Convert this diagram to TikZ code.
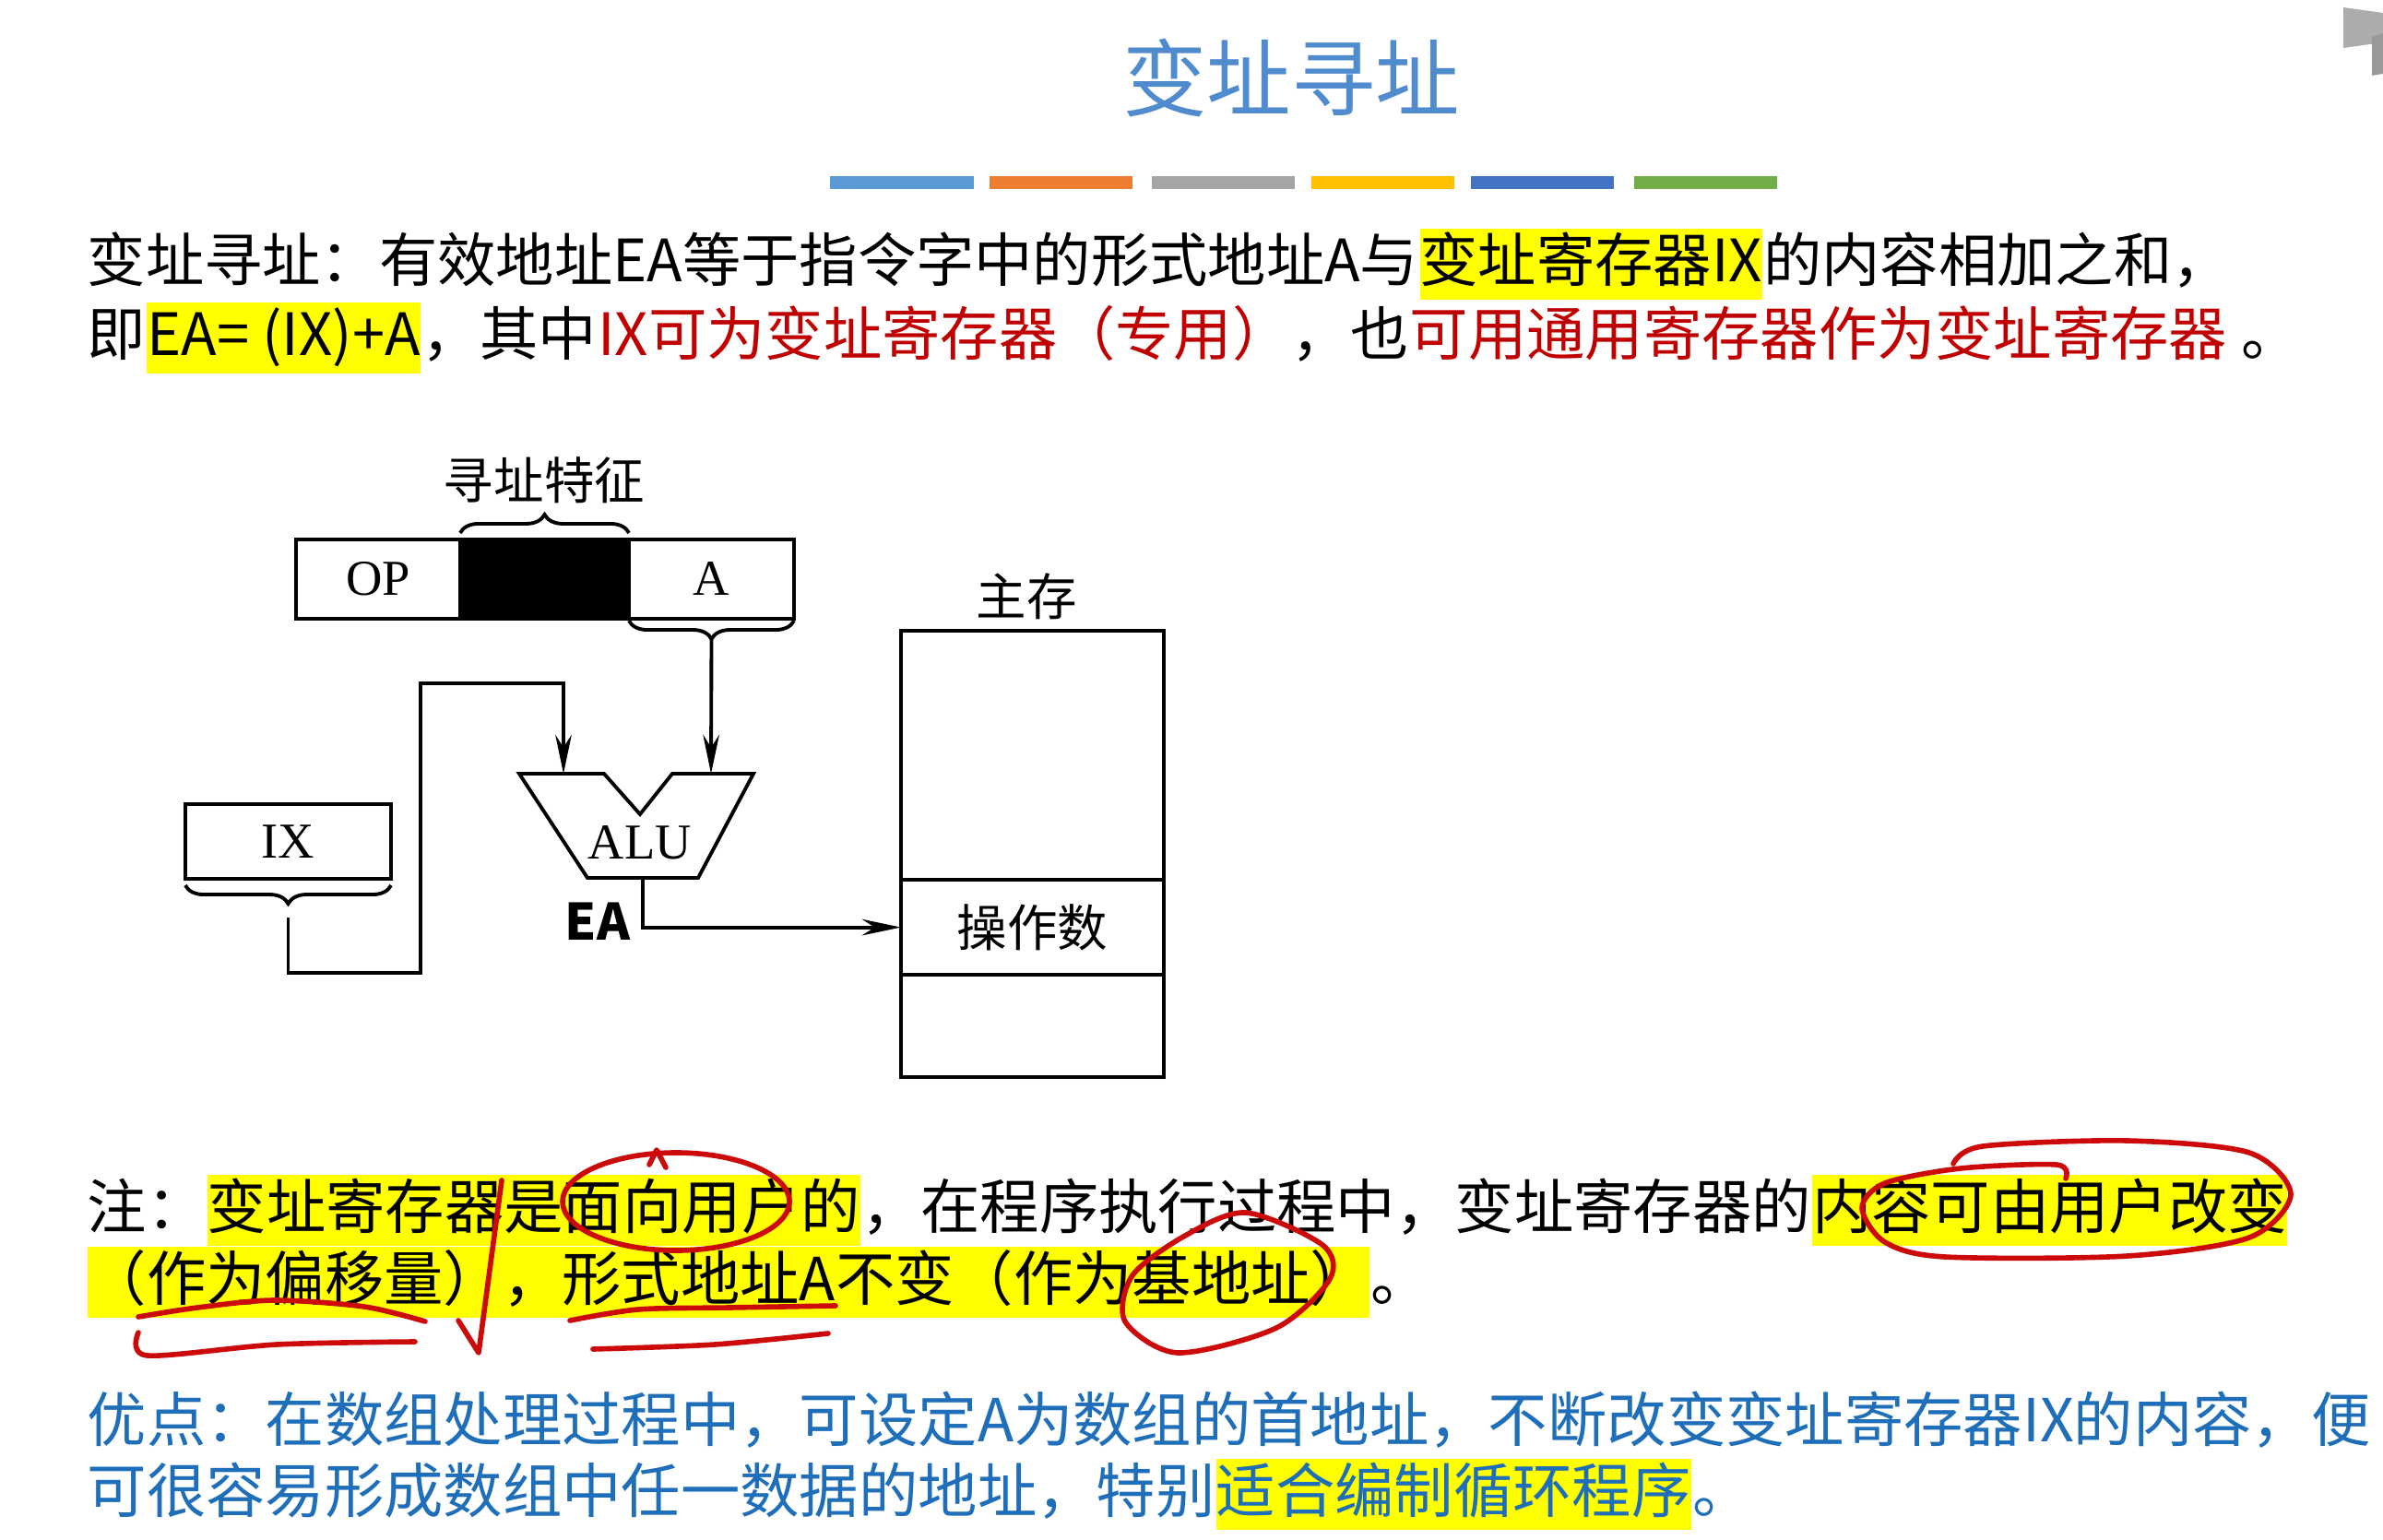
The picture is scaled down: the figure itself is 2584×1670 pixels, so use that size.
\documentclass[tikz,border=0pt]{standalone}
\usepackage{fontspec}
\setmainfont{Noto Sans CJK SC}
\newfontfamily\figserif{Liberation Serif}
\usepackage{xcolor}
\usetikzlibrary{arrows.meta,positioning,decorations.pathreplacing}

\definecolor{titleblue}{RGB}{79,139,205}
\definecolor{noteblue}{RGB}{30,110,185}
\definecolor{notered}{RGB}{192,0,0}
\definecolor{penred}{RGB}{205,10,10}
\definecolor{hlyellow}{RGB}{255,255,0}
\definecolor{barA}{RGB}{91,155,213}
\definecolor{barB}{RGB}{237,125,49}
\definecolor{barC}{RGB}{165,165,165}
\definecolor{barD}{RGB}{255,192,0}
\definecolor{barE}{RGB}{68,114,196}
\definecolor{barF}{RGB}{112,173,71}

\tikzset{
  seg/.style={inner sep=0pt, anchor=base west, text height=16.5pt, text depth=5.4pt,
    font=\fontsize{18.3}{22}\selectfont},
  hilite/.style={seg, fill=hlyellow},
  eqfont/.style={font=\fontsize{18}{22}\selectfont},
  cell/.style={draw, line width=1.1pt, inner sep=0pt, outer sep=0pt, minimum height=0.86cm,
    font=\figserif\fontsize{15.5}{16}\selectfont},
  cjklabel/.style={inner sep=0pt, font=\fontsize{15.5}{16}\selectfont},
  brace/.style={decorate, decoration={brace, amplitude=0.2cm}, line width=1.1pt},
  flow/.style={line width=1.1pt, -{Stealth[length=12pt, width=5pt]}},
  pen/.style={draw=penred, line width=1.6pt, line cap=round, line join=round},
}

\begin{document}
\begin{tikzpicture}[x=0.01cm, y=-0.01cm]
  \useasboundingbox (0,0) rectangle (2584,1670);
  % corner of the slide frame
  \fill[gray!65] (2541,8) -- (2584,14) -- (2584,46) -- (2541,52) -- cycle;
  \fill[gray!80] (2572,40) -- (2584,36) -- (2584,80) -- (2572,82) -- cycle;

  % title and colour strip
  \node[anchor=base, inner sep=0pt, text=titleblue, font=\fontsize{26}{30}\selectfont] (title) at (1400,120) {变址寻址};
  \fill[barA] (900,191) rectangle (1056,205);
  \fill[barB] (1073,191) rectangle (1228,205);
  \fill[barC] (1249,191) rectangle (1404,205);
  \fill[barD] (1422,191) rectangle (1577,205);
  \fill[barE] (1595,191) rectangle (1750,205);
  \fill[barF] (1772,191) rectangle (1927,205);

  % definition
  \node[seg, eqfont] (defa) at (94,306) {变址寻址：有效地址EA等于指令字中的形式地址A与};
  \node[hilite, eqfont] (defb) at (defa.base east) {变址寄存器IX};
  \node[seg, eqfont] (defc) at (defb.base east) {的内容相加之和，};
  \node[seg, eqfont] (eqa) at (94,386) {即};
  \node[hilite, eqfont] (eqb) at (eqa.base east) {EA= (IX)+A};
  \node[seg, eqfont] (eqc) at (eqb.base east) {，其中};
  \node[seg, eqfont, text=notered] (eqd) at (eqc.base east) {IX可为变址寄存器（专用）};
  \node[seg, eqfont] (eqe) at (eqd.base east) {，也};
  \node[seg, eqfont, text=notered] (eqf) at (eqe.base east) {可用通用寄存器作为变址寄存器};
  \node[seg, eqfont] (eqg) at (eqf.base east) {\ 。};

  % instruction word
  \node[cell, minimum width=1.78cm] (op) at (410,628) {OP};
  \node[cell, minimum width=1.83cm, fill=black] (mode) at (590.5,628) {};
  \node[cell, minimum width=1.79cm] (addr) at (771.5,628) {A};
  \draw[brace] ([yshift=0.07cm]mode.north west) -- ([yshift=0.07cm]mode.north east);
  \node[cjklabel] (modelbl) at (590,521) {寻址特征};
  \draw[brace] ([yshift=-0.02cm]addr.south east) -- ([yshift=-0.02cm]addr.south west);
  \coordinate (atip) at ([yshift=-0.22cm]addr.south);

  % index register
  \node[cell, minimum width=2.23cm, minimum height=0.81cm] (ix) at (312.5,912.5) {IX};
  \draw[brace] ([yshift=-0.07cm]ix.south east) -- ([yshift=-0.07cm]ix.south west);
  \coordinate (ixtip) at ([yshift=-0.42cm]ix.south);

  % adder
  \draw[line width=1.1pt, line join=miter] (563,839) -- (655,839) -- (694,883) -- (729,839)
    -- (817,839) -- (757,952) -- (637,952) -- cycle;
  \node[inner sep=0pt, font=\figserif\fontsize{15.5}{16}\selectfont] (alu) at (694,914) {ALU};
  \coordinate (aluL) at (611,839);
  \coordinate (aluR) at (771,839);
  \coordinate (aluout) at (697,952);

  % main memory
  \node[cell, minimum width=2.85cm, minimum height=2.70cm] (memtop) at (1119.5,819) {};
  \node[cell, minimum width=2.85cm, minimum height=1.03cm, anchor=north,
    font=\fontsize{15.5}{16}\selectfont] (opnd) at (memtop.south) {操作数};
  \node[cell, minimum width=2.85cm, minimum height=1.11cm, anchor=north] (membot) at (opnd.south) {};
  \node[cjklabel] (memlbl) at (1113,647) {主存};

  % data paths
  \draw[flow] (atip) -- (aluR);
  \draw[flow] (ixtip) |- (456,1055) -- (456,741) -| (aluL);
  \draw[flow] (aluout) |- (opnd.west);
  \node[inner sep=0pt, font=\bfseries\fontsize{15.5}{16}\selectfont] (ea) at (648,999) {EA};

  % note
  \node[seg] (nota) at (94,1332) {注：};
  \node[hilite] (notb) at (nota.base east) {变址寄存器是面向用户的};
  \node[seg] (notc) at (notb.base east) {，在程序执行过程中，变址寄存器的};
  \node[hilite] (notd) at (notc.base east) {内容可由用户改变};
  \node[hilite] (note) at (94,1410) {（作为偏移量），形式地址A不变（作为基地址）};
  \node[seg] (notf) at (note.base east) {。};

  % advantage
  \node[seg, text=noteblue] (adva) at (94,1563) {优点：在数组处理过程中，可设定A为数组的首地址，不断改变变址寄存器IX的内容，便};
  \node[seg, text=noteblue] (advb) at (94,1640) {可很容易形成数组中任一数据的地址，特别};
  \node[hilite, text=noteblue] (advc) at (advb.base east) {适合编制循环程序};
  \node[seg, text=noteblue] (advd) at (advc.base east) {。};

  % pen marks
  \draw[pen] (733,1303) ellipse [x radius=123, y radius=53];
  \draw[pen] (704,1263) -- (712,1247) -- (722,1266);
  \draw[pen] plot[smooth] coordinates {(2118,1262) (2150,1243) (2307,1237) (2439,1250) (2484,1295)
    (2439,1342) (2307,1362) (2109,1363) (2044,1347) (2019,1310) (2044,1283) (2126,1267) (2230,1263) (2240,1278)};
  \draw[pen] plot[smooth cycle] coordinates {(1351,1315) (1434,1350) (1442,1387) (1384,1440)
    (1277,1467) (1220,1433) (1228,1383) (1285,1340)};
  \draw[pen] plot[smooth] coordinates {(150,1428) (214,1418) (297,1410) (395,1417) (461,1433)};
  \draw[pen] plot[smooth] coordinates {(150,1445) (160,1470) (300,1458) (450,1455)};
  \draw[pen] (497,1432) -- (519,1467) -- (544,1280);
  \draw[pen] plot[smooth] coordinates {(618,1432) (692,1420) (791,1418) (906,1416)};
  \draw[pen] plot[smooth] coordinates {(643,1463) (775,1458) (898,1446)};
\end{tikzpicture}
\end{document}
